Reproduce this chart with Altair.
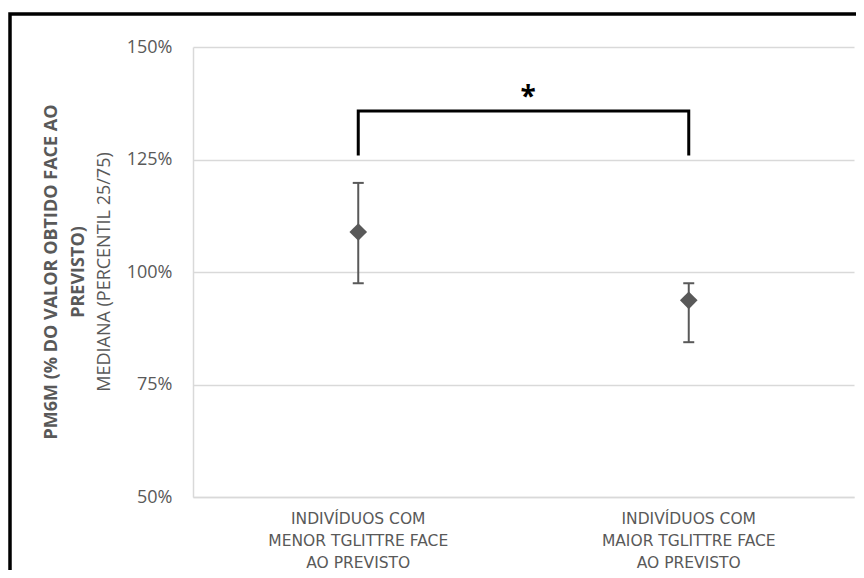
import altair as alt
import pandas as pd

# ---- data ----
categories = [
    "INDIVÍDUOS COM\nMENOR TGLITTRE FACE\nAO PREVISTO",
    "INDIVÍDUOS COM\nMAIOR TGLITTRE FACE\nAO PREVISTO",
]
medians = [108.9, 93.7]
p25 = [97.5, 84.4]
p75 = [119.8, 97.5]
y_ticks = [50, 75, 100, 125, 150]

bracket_y = [125.9, 135.8, 135.8, 125.9]
bracket_cat = [categories[0], categories[0], categories[1], categories[1]]
star_level = 137.0

title_bold_1 = "PM6M (% DO VALOR OBTIDO FACE AO"
title_bold_2 = "PREVISTO)"
title_regular = "MEDIANA (PERCENTIL 25/75)"

GRAY = "#595959"
GRID = "#d9d9d9"
W, H = 661, 450

df = pd.DataFrame({"cat": categories, "med": medians, "lo": p25, "hi": p75})
br = pd.DataFrame({"cat": bracket_cat, "y": bracket_y, "o": list(range(len(bracket_y)))})
one = pd.DataFrame({"k": [0]})

xenc = alt.X(
    "cat:N",
    sort=categories,
    title=None,
    scale=alt.Scale(paddingInner=0, paddingOuter=0),
    axis=alt.Axis(
        labelAngle=0,
        labelExpr="split(datum.label, '\\n')",
        labelFont="DejaVu Sans",
        labelFontSize=15.5,
        labelColor=GRAY,
        labelLineHeight=22,
        labelPadding=14,
        ticks=False,
        tickSize=0,
        domain=True,
        domainColor=GRID,
        domainWidth=1.5,
        grid=False,
    ),
)
yscale = alt.Scale(domain=[50, 150], nice=False, zero=False)
yaxis = alt.Axis(
    values=y_ticks,
    labelExpr="datum.value + '%'",
    labelFont="Open Sans",
    labelFontSize=18,
    labelColor=GRAY,
    labelPadding=21,
    ticks=False,
    tickSize=0,
    domain=True,
    domainColor=GRID,
    domainWidth=1.5,
    grid=True,
    gridColor=GRID,
    gridWidth=1.5,
    title=None,
)

base = alt.Chart(df)

whisk = base.mark_rule(color=GRAY, strokeWidth=2).encode(
    x=xenc, y=alt.Y("lo:Q", scale=yscale, axis=yaxis), y2="hi:Q"
)
cap_lo = base.mark_tick(color=GRAY, thickness=2, size=11, opacity=1).encode(
    x=alt.X("cat:N", sort=categories), y=alt.Y("lo:Q")
)
cap_hi = base.mark_tick(color=GRAY, thickness=2, size=11, opacity=1).encode(
    x=alt.X("cat:N", sort=categories), y=alt.Y("hi:Q")
)
dots = base.mark_point(shape="diamond", filled=True, size=310, color=GRAY, opacity=1).encode(
    x=alt.X("cat:N", sort=categories), y=alt.Y("med:Q")
)

bracket = alt.Chart(br).mark_line(
    color="black", strokeWidth=3, strokeJoin="miter", strokeCap="butt"
).encode(x=alt.X("cat:N", sort=categories), y=alt.Y("y:Q"), order="o:Q")

star = alt.Chart(one).mark_text(
    text="*", font="Open Sans", fontSize=28, fontWeight="bold", color="black",
    align="center", baseline="alphabetic",
).encode(x=alt.value(335), y=alt.datum(star_level))

t1 = alt.Chart(one).mark_text(
    text=title_bold_1, font="Open Sans", fontSize=18, fontWeight="bold", color=GRAY,
    angle=270, align="center", baseline="middle",
).encode(x=alt.value(-141), y=alt.value(H / 2))
t2 = alt.Chart(one).mark_text(
    text=title_bold_2, font="Open Sans", fontSize=18, fontWeight="bold", color=GRAY,
    angle=270, align="center", baseline="middle",
).encode(x=alt.value(-114), y=alt.value(H / 2))
t3 = alt.Chart(one).mark_text(
    text=title_regular, font="Open Sans", fontSize=18, color=GRAY,
    angle=270, align="center", baseline="middle",
).encode(x=alt.value(-88), y=alt.value(H / 2))

border = alt.Chart(one).mark_rect(
    filled=False, stroke="black", strokeWidth=3.5
).encode(x=alt.value(-183), y=alt.value(-33), x2=alt.value(720), y2=alt.value(640))

chart = alt.layer(
    whisk, cap_lo, cap_hi, dots, bracket, star, t1, t2, t3, border
).properties(
    width=W,
    height=H,
    autosize=alt.AutoSizeParams(type="none"),
    padding={"left": 185, "top": 39, "right": 2, "bottom": 73},
    background="white",
).configure_view(strokeWidth=0)

chart.save("out.html", embed_options={"renderer": "svg", "actions": False})
